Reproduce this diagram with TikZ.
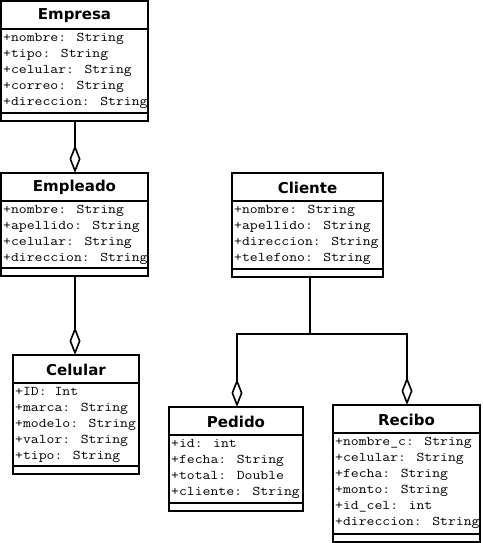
\documentclass[tikz,border=0pt]{standalone}
\usepackage{fontspec}
\setmainfont{DejaVu Sans}
\newfontfamily\attrfont{Latin Modern Mono}[FakeStretch=1.15]
\usetikzlibrary{arrows.meta,calc}

\tikzset{
  umlbox/.style={draw, line width=1.6pt, fill=white, inner sep=0pt, outer sep=0pt, anchor=north west},
  umltitle/.style={font=\bfseries\fontsize{15}{17}\selectfont, inner sep=0pt},
  umlattr/.style={font=\attrfont\fontsize{13.3}{16}\selectfont, anchor=west, inner sep=0pt,
    text height=8pt, text depth=2.5pt},
  sepline/.style={line width=1.6pt},
  agg/.style={line width=1.6pt, -{Diamond[open, fill=white, length=28pt, width=11pt]}},
}

% #1 name, #2 left, #3 top, #4 right, #5 bottom, #6 class name, #7 attributes
\newcommand\umlclass[7]{%
  \node[umlbox, minimum width={#4-#2}, minimum height={#5-#3}] (#1) at (#2,#3) {};
  \draw[sepline] ([yshift=-28pt]#1.north west) -- ([yshift=-28pt]#1.north east);
  \draw[sepline] ([yshift=8pt]#1.south west) -- ([yshift=8pt]#1.south east);
  \node[umltitle] (#1-title) at ($(#1.north)+(0,14.5)$) {#6};
  \foreach \att [count=\i] in {#7}
    \node[umlattr] (#1-a\i) at ($(#1.north west)+(2,21.5+16*\i)$) {\att};
}

\begin{document}
\begin{tikzpicture}[x=1pt,y=-1pt]
\useasboundingbox (0,0) rectangle (482,543);

\umlclass{empresa}{1}{1}{148}{121}{Empresa}
  {+nombre: String,+tipo: String,+celular: String,+correo: String,+direccion: String}
\umlclass{empleado}{1}{173}{148}{276}{Empleado}
  {+nombre: String,+apellido: String,+celular: String,+direccion: String}
\umlclass{celular}{13}{355}{139}{474}{Celular}
  {+ID: Int,+marca: String,+modelo: String,+valor: String,+tipo: String}
\umlclass{cliente}{232}{173}{383}{277}{Cliente}
  {+nombre: String,+apellido: String,+direccion: String,+telefono: String}
\umlclass{pedido}{169}{407}{303}{511}{Pedido}
  {+id: int,+fecha: String,+total: Double,+cliente: String}
\umlclass{recibo}{333}{405}{480}{542}{Recibo}
  {+nombre\_c: String,+celular: String,+fecha: String,+monto: String,+id\_cel: int,+direccion: String}

% aggregations
\draw[agg] ([xshift=0.5pt]empresa.south) -- ([xshift=0.5pt]empleado.north);
\draw[agg] ([xshift=0.5pt]empleado.south) -- ([xshift=0.5pt]empleado.south |- celular.north);

\coordinate (join) at (310,334);
\draw[line width=1.6pt] (join |- cliente.south) -- (join);
\draw[agg] (join) -| ([xshift=1pt]pedido.north);
\draw[agg] (join) -| ([xshift=0.5pt]recibo.north);
\end{tikzpicture}
\end{document}
